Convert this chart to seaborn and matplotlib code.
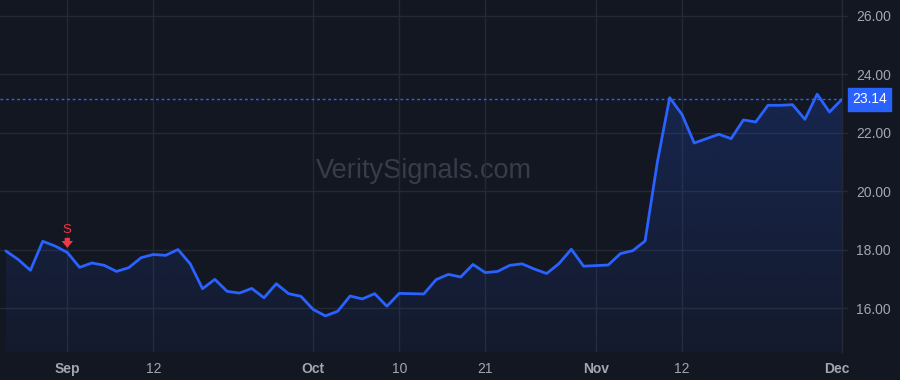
import numpy as np
import pandas as pd
import matplotlib
matplotlib.use("Agg")
import matplotlib.pyplot as plt
import seaborn as sns
from matplotlib.patches import Polygon
from matplotlib.colors import to_rgb
from matplotlib.transforms import offset_copy, ScaledTranslation

# ---- data ----
prices = [17.96, 17.67, 17.30, 18.29, 18.13, 17.91, 17.40, 17.55, 17.47, 17.26,
          17.39, 17.73, 17.84, 17.81, 18.01, 17.52, 16.67, 16.99, 16.58, 16.52,
          16.68, 16.36, 16.84, 16.50, 16.41, 15.96, 15.74, 15.90, 16.42, 16.32,
          16.50, 16.07, 16.51, 16.50, 16.49, 16.98, 17.16, 17.07, 17.50, 17.22,
          17.26, 17.47, 17.52, 17.34, 17.19, 17.53, 18.02, 17.44, 17.46, 17.48,
          17.87, 17.97, 18.30, 21.00, 23.20, 22.63, 21.65, 21.80, 21.95, 21.80,
          22.44, 22.37, 22.94, 22.94, 22.96, 22.46, 23.32, 22.71, 23.14]
tick_bars = [5, 12, 25, 32, 39, 48, 55, 68]
tick_labels = ["Sep", "12", "Oct", "10", "21", "Nov", "12", "Dec"]
month_labels = {"Sep", "Oct", "Nov", "Dec"}
y_ticks = [16, 18, 20, 22, 24, 26]
last_price = 23.14
signal_bar = 5
signal_text = "S"
watermark = "VeritySignals.com"

df = pd.DataFrame({"bar": np.arange(len(prices)), "price": prices})

# ---- style ----
BG = "#131722"
GRID = "#252935"
LINE = "#2962ff"
TXT = "#a3a6af"
RED = "#f23645"

sns.set_theme(style="dark")
plt.rcParams["font.family"] = ["Liberation Sans", "DejaVu Sans"]

fig = plt.figure(figsize=(9, 3.8), dpi=100, facecolor=BG)
ax = fig.add_axes([0, 28 / 380, 842 / 900, 352 / 380])
ax.set_facecolor(BG)

ymin, ymax = 14.506, 26.54
ax.set_xlim(-0.476, 68.02)
ax.set_ylim(ymin, ymax)

# grid
ax.set_xticks(tick_bars)
ax.set_yticks(y_ticks)
ax.grid(True, color=GRID, linewidth=1)
ax.set_axisbelow(True)

# gradient area fill
xs = df["bar"].to_numpy()
ys = df["price"].to_numpy()
rgba = np.zeros((256, 1, 4))
rgba[..., :3] = to_rgb(LINE)
rgba[..., 3] = np.linspace(0.05, 0.20, 256)[:, None]
im = ax.imshow(rgba, extent=[xs[0], xs[-1], ymin, ys.max()], origin="lower",
               aspect="auto", zorder=1, interpolation="bilinear")
verts = np.column_stack([np.r_[xs[0], xs, xs[-1]], np.r_[ymin, ys, ymin]])
clip = Polygon(verts, closed=True, transform=ax.transData, facecolor="none", edgecolor="none")
ax.add_patch(clip)
im.set_clip_path(clip)

# line
sns.lineplot(data=df, x="bar", y="price", color=LINE, linewidth=2, ax=ax, zorder=3)

# last price dotted line
ax.axhline(last_price, color=LINE, linewidth=1, linestyle=(0, (2, 2)), zorder=2)

# watermark
ax.text(0.503, 0.515, watermark, transform=ax.transAxes, ha="center", va="center",
        fontsize=19.5, color="#383c49", zorder=0.5)

# sell signal
ax.annotate(signal_text, xy=(signal_bar, ys[signal_bar]), xytext=(0, 16.5),
            textcoords="offset points", ha="center", va="center",
            color=RED, fontsize=9.5, zorder=5)
fig.canvas.draw()
t_tip = offset_copy(ax.transData, fig=fig, x=0, y=3.2, units="points")
t_tail = offset_copy(ax.transData, fig=fig, x=0, y=10.5, units="points")
p_tip = t_tip.transform((signal_bar, ys[signal_bar]))
p_tail = t_tail.transform((signal_bar, ys[signal_bar]))
ax.annotate("", xy=p_tip, xycoords="figure pixels", xytext=p_tail, textcoords="figure pixels",
            arrowprops=dict(arrowstyle="simple,head_length=0.42,head_width=0.68,tail_width=0.32",
                            color=RED, lw=0, shrinkA=0, shrinkB=0), zorder=5)

# axes formatting
ax.yaxis.tick_right()
ax.set_yticklabels([f"{v:.2f}" for v in y_ticks])
ax.set_xticklabels(tick_labels)
ax.tick_params(axis="y", colors=TXT, labelsize=10, length=4, width=1, pad=6,
               right=True, left=False, labelright=True, labelleft=False)
ax.tick_params(axis="x", colors=TXT, labelsize=10, length=0, pad=7)
ax.tick_params(axis="y", color=GRID)
for lbl in ax.get_yticklabels():
    lbl.set_color(TXT)
xl = ax.get_xticklabels()
for lbl in xl:
    lbl.set_color(TXT)
    if lbl.get_text() in month_labels:
        lbl.set_fontweight("bold")
# last label is pulled inside like the reference
xl[-1].set_transform(xl[-1].get_transform() + ScaledTranslation(-5 / 100, 0, fig.dpi_scale_trans))
ax.set_xlabel("")
ax.set_ylabel("")
for s in ["top", "left", "bottom"]:
    ax.spines[s].set_visible(False)
ax.spines["right"].set_color(GRID)
ax.spines["right"].set_linewidth(1)

# last price tag
ax.annotate(f"{last_price:.2f}", xy=(1, last_price), xycoords=("axes fraction", "data"),
            xytext=(7.5, 0), textcoords="offset points", ha="left", va="center",
            color="white", fontsize=10, zorder=6,
            bbox=dict(boxstyle="square,pad=0.3", facecolor=LINE, edgecolor=LINE))

fig.savefig("out.png", dpi=100, facecolor=BG)
